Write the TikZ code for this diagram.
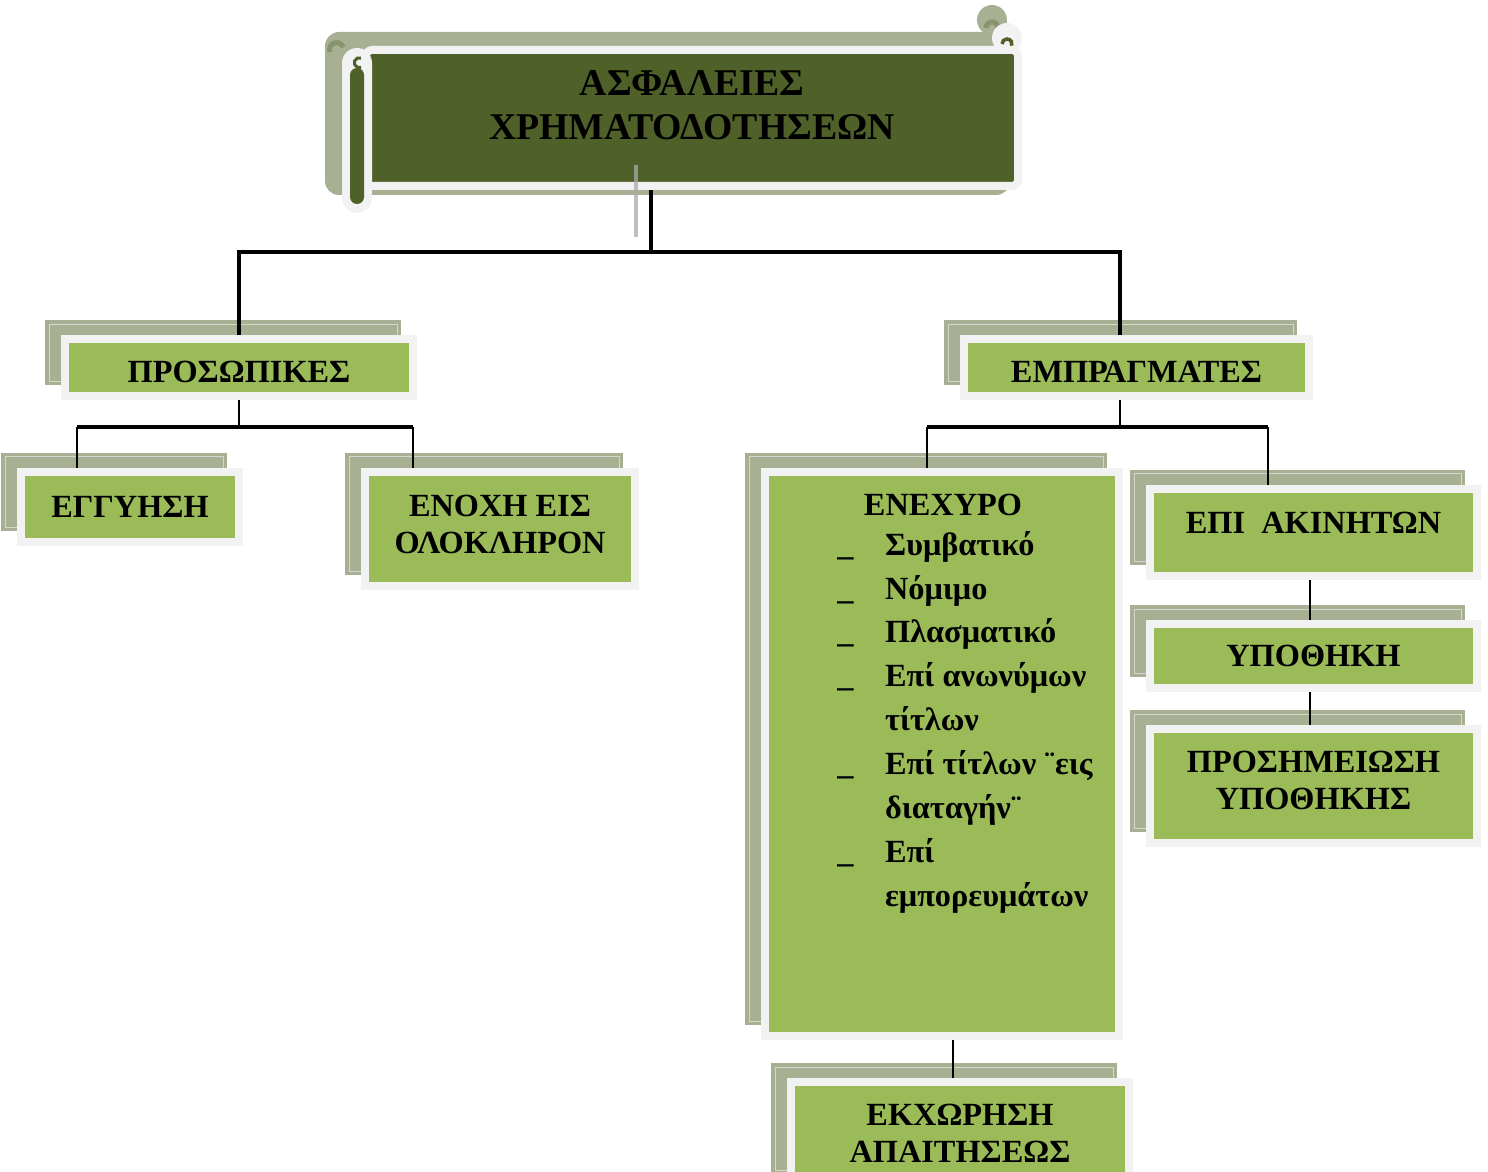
\documentclass[tikz,border=0pt]{standalone}
\usepackage{fontspec}
\setmainfont{Liberation Serif}
\newlength\px
\setlength\px{0.02cm}
\definecolor{backgreen}{RGB}{168,176,148}
\definecolor{curlgreen}{RGB}{135,148,110}
\definecolor{mossgreen}{RGB}{155,187,89}
\definecolor{darkmoss}{RGB}{79,97,40}
\definecolor{paleedge}{RGB}{242,242,242}
\definecolor{ghostline}{RGB}{170,170,170}
\begin{document}
\begin{tikzpicture}[x=0.02cm, y=-0.02cm,
		boxtext/.style={font=\fontsize{18.4}{21}\selectfont\bfseries, align=center},
		greenbox/.style={boxtext, draw=paleedge, fill=mossgreen, line width=8\px, inner sep=0,
			preaction={fill=backgreen, draw=backgreen, line width=3.5\px, double=paleedge!60!backgreen,
				double distance=1\px, transform canvas={shift={(-16,-15)}}}},
		titlebox/.style={draw=paleedge, fill=darkmoss, line width=8\px, rounded corners=6\px, inner sep=0,
			align=center, font=\fontsize{21.5}{25}\selectfont\bfseries},
		bus/.style={line width=1.8pt},
		twig/.style={line width=1.1pt}]
	\useasboundingbox (0,0) rectangle (1488,1172);

	\fill[backgreen, rounded corners=14\px] (325,32) rectangle (1010,195);
	\fill[backgreen] (992,20) circle[radius=15\px];
	\draw[curlgreen, line width=5\px] (986,28) arc[start angle=180, end angle=0, radius=6\px];
	\draw[curlgreen, line width=5\px] (330,52) arc[start angle=200, end angle=20, radius=7\px];
	\node[titlebox, minimum width=652\px, minimum height=136\px] (title) at (692,118)
		{ΑΣΦΑΛΕΙΕΣ\\ΧΡΗΜΑΤΟΔΟΤΗΣΕΩΝ\rule[-14.8pt]{0pt}{14.8pt}};
	\fill[paleedge, rounded corners=15\px] (342,48) rectangle (372,213);
	\fill[darkmoss, rounded corners=7\px] (350,68) rectangle (364,204);
	\draw[darkmoss, line width=3\px] (361,58) arc[start angle=70, end angle=290, radius=5\px];
	\fill[paleedge] (1007,38) circle[radius=15\px];
	\draw[darkmoss, line width=3.5\px] (1002,44) arc[start angle=180, end angle=-20, radius=5\px];
	\draw[ghostline, opacity=0.75, line width=4\px] (636,165) -- (636,237);

	\foreach \name/\x/\y/\w/\h/\txt in {
			prosopikes/239/368/348/57/{\rule{0pt}{16.8pt}ΠΡΟΣΩΠΙΚΕΣ},
			empragmates/1136.5/368/345/57/{\rule{0pt}{16.8pt}ΕΜΠΡΑΓΜΑΤΕΣ},
			egguisi/130/507/218/70/{ΕΓΓΥΗΣΗ},
			enoxi/500/529/270/114/{ΕΝΟΧΗ ΕΙΣ\\ΟΛΟΚΛΗΡΟΝ\rule[-5.7pt]{0pt}{5.7pt}},
			enexyro/942/754/354/564/{},
			ekxorisi/960/1133.5/338/103/{ΕΚΧΩΡΗΣΗ\\ΑΠΑΙΤΗΣΕΩΣ},
			akinita/1313.5/532.5/327/87/{\raisebox{20\px}{ΕΠΙ~~ΑΚΙΝΗΤΩΝ}},
			ypothiki/1313.5/656/327/64/{ΥΠΟΘΗΚΗ},
			prosimeiosi/1313.5/786/327/114/{ΠΡΟΣΗΜΕΙΩΣΗ\\ΥΠΟΘΗΚΗΣ\rule[-6.8pt]{0pt}{6.8pt}}}
		{
			\node[greenbox, minimum width=\w\px, minimum height=\h\px] (\name) at (\x,\y) {\txt};
		}

	\node[boxtext] (enexyrotitle) at (943,505) {ΕΝΕΧΥΡΟ};
	\node[boxtext, font=\fontsize{18.4}{25}\selectfont\bfseries, anchor=north west, inner sep=0] (enexlist) at (837,524)
		{\begin{tabular}{@{}l@{\hspace{18pt}}l@{}}
			\_ & Συμβατικό\\
			\_ & Νόμιμο\\
			\_ & Πλασματικό\\
			\_ & Επί ανωνύμων\\
			   & τίτλων\\
			\_ & Επί τίτλων ¨εις\\
			   & διαταγήν¨\\
			\_ & Επί\\
			   & εμπορευμάτων
		\end{tabular}};

	\coordinate (topjoin) at (651,252);
	\coordinate (rightjoin) at (1120,252);
	\draw[bus] (topjoin |- title.south) -- (topjoin);
	\draw[bus] (prosopikes.north) |- (rightjoin) -- (rightjoin |- empragmates.north);

	\coordinate (pjoin) at (239,427);
	\coordinate (egjoin) at (77,427);
	\coordinate (enjoin) at (413,427);
	\draw[twig] (prosopikes.south) -- (pjoin);
	\draw[bus] (egjoin) -- (enjoin);
	\draw[twig] (egjoin) -- (egjoin |- egguisi.north);
	\draw[twig] (enjoin) -- (enjoin |- enoxi.north);

	\coordinate (ejoin) at (1120,427);
	\coordinate (nxjoin) at (927,427);
	\coordinate (akjoin) at (1268,427);
	\coordinate (hypdrop) at (1310,600);
	\coordinate (exdrop) at (953,1060);
	\draw[twig] (ejoin |- empragmates.south) -- (ejoin);
	\draw[bus] (nxjoin) -- (akjoin);
	\draw[twig] (nxjoin) -- (nxjoin |- enexyro.north);
	\draw[twig] (akjoin) -- (akjoin |- akinita.north);
	\draw[twig] (hypdrop |- akinita.south) -- (hypdrop |- ypothiki.north);
	\draw[twig] (hypdrop |- ypothiki.south) -- (hypdrop |- prosimeiosi.north);
	\draw[twig] (exdrop |- enexyro.south) -- (exdrop |- ekxorisi.north);
\end{tikzpicture}
\end{document}
